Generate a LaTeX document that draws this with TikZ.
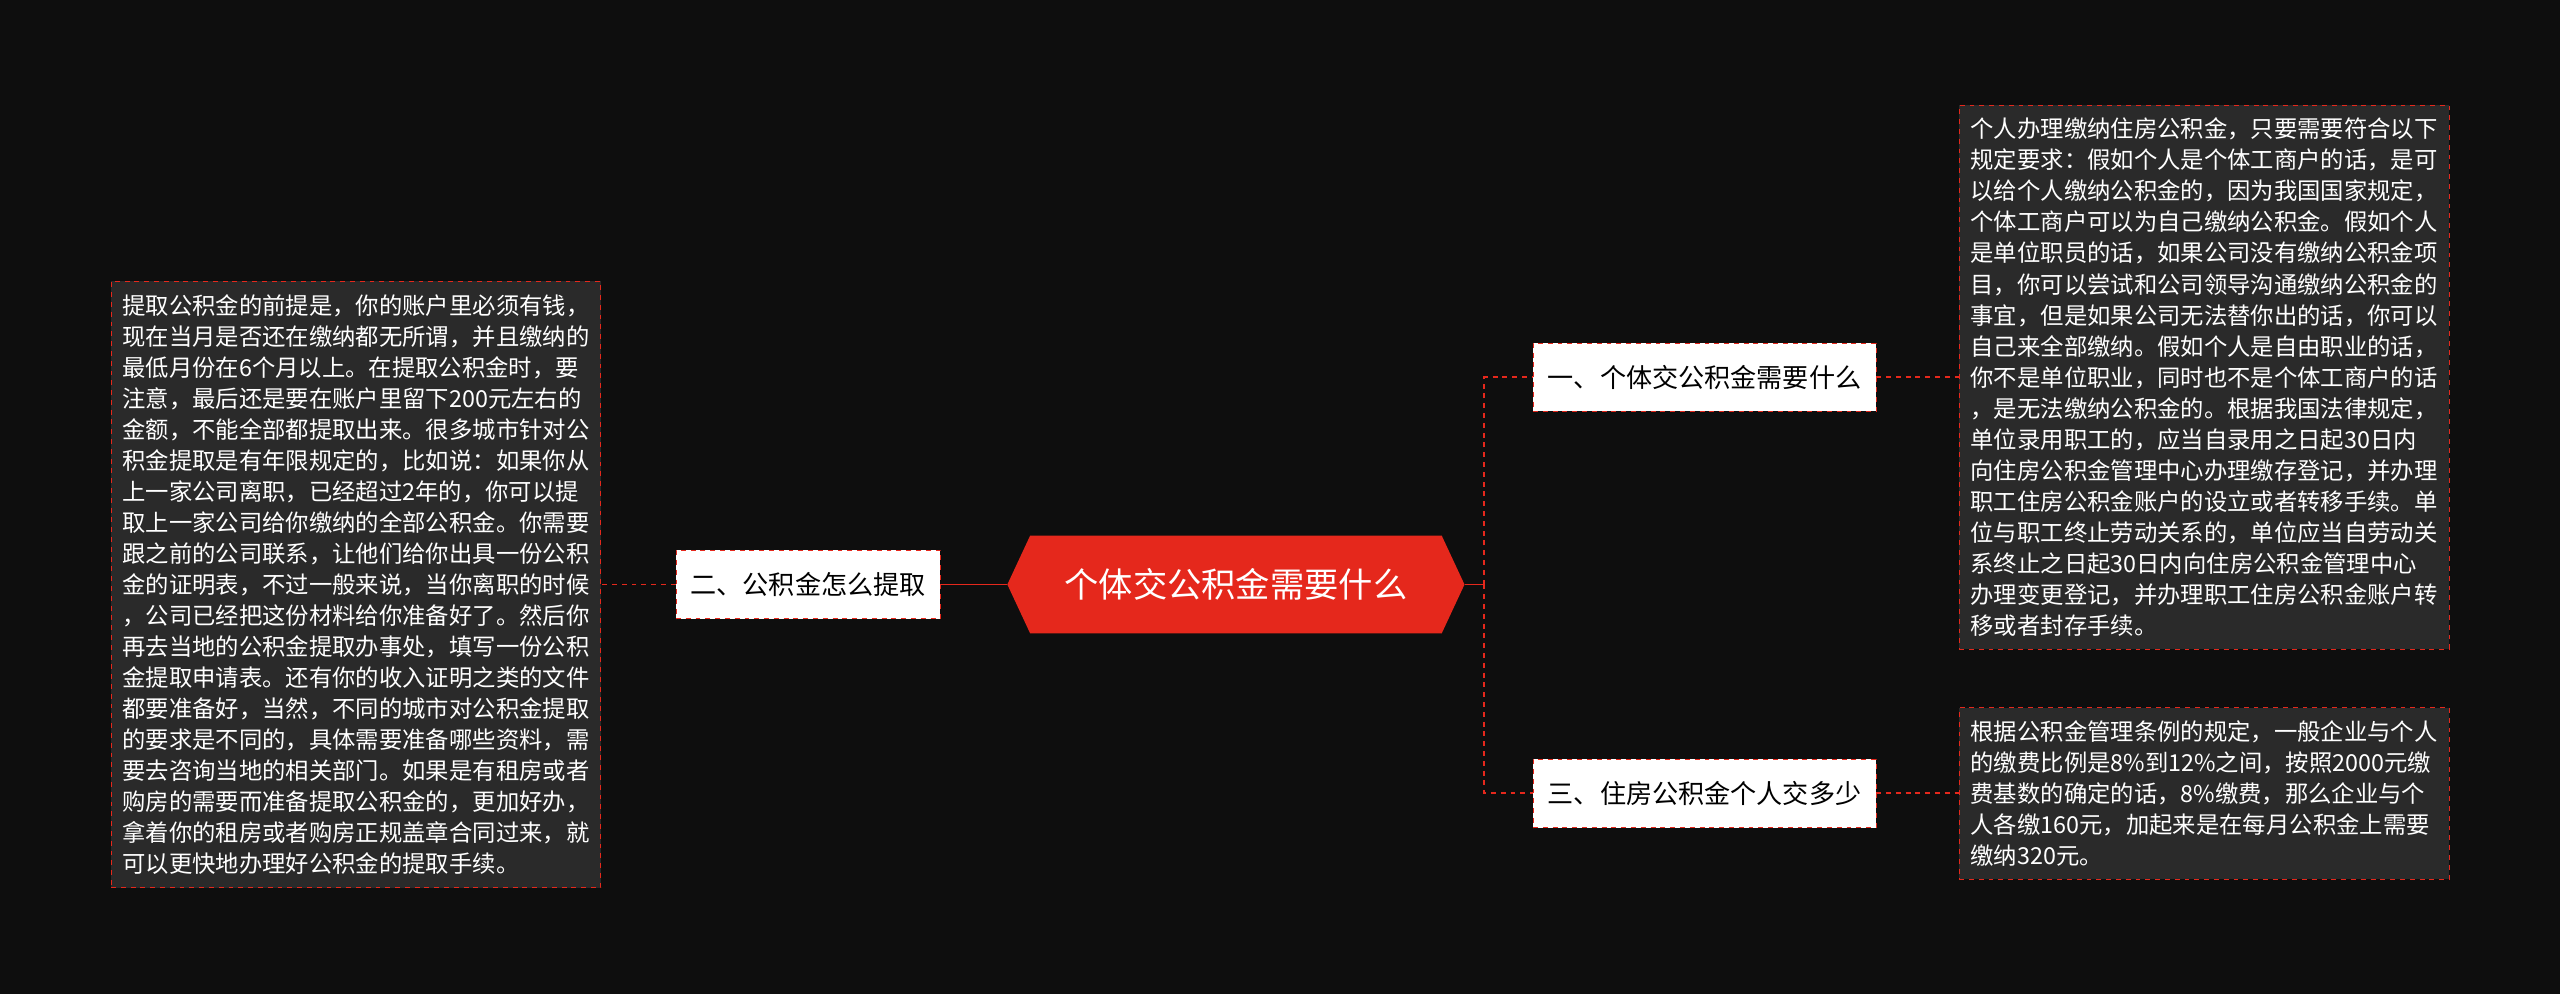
\documentclass[tikz,border=0pt]{standalone}
\usepackage{fontspec}
\setmainfont{Noto Sans CJK SC}
\usetikzlibrary{shapes.symbols}
\definecolor{bgdark}{HTML}{0E0E0E}
\definecolor{boxdark}{HTML}{2A2A2A}
\definecolor{mapred}{HTML}{E5281C}
\tikzstyle{every node}=[inner sep=0pt]
\tikzstyle{root}=[signal, signal to=west and east, signal pointer angle=130, fill=mapred, text=white, font=\fontsize{21}{25}\selectfont, minimum width=280pt, minimum height=60pt]
\tikzstyle{topic}=[draw=mapred, dashed, fill=white, text=black, font=\fontsize{16}{20}\selectfont, inner xsep=9pt, minimum height=42pt]
\tikzstyle{detail}=[draw=mapred, dashed, fill=boxdark, text=white, align=left, font=\fontsize{14.3}{19}\selectfont, inner xsep=7pt, inner ysep=8pt]
\tikzstyle{link}=[mapred, line width=1.2pt]
\tikzstyle{dlink}=[mapred, line width=1.2pt, dashed]

\begin{document}
\begin{tikzpicture}[x=1pt, y=-1pt]
  \fill[bgdark] (0,0) rectangle (1568,609);
  \node[root] (main) at (757,358) {个体交公积金需要什么};
  \node[topic] (t2) at (495,358) {二、公积金怎么提取};
  \node[topic] (t1) at (1044,231) {一、个体交公积金需要什么};
  \node[topic] (t3) at (1044,486) {三、住房公积金个人交多少};
  \node[detail] (d2) at (218,358) {提取公积金的前提是，你的账户里必须有钱，\\
现在当月是否还在缴纳都无所谓，并且缴纳的\\
最低月份在6个月以上。在提取公积金时，要\\
注意，最后还是要在账户里留下200元左右的\\
金额，不能全部都提取出来。很多城市针对公\\
积金提取是有年限规定的，比如说：如果你从\\
上一家公司离职，已经超过2年的，你可以提\\
取上一家公司给你缴纳的全部公积金。你需要\\
跟之前的公司联系，让他们给你出具一份公积\\
金的证明表，不过一般来说，当你离职的时候\\
，公司已经把这份材料给你准备好了。然后你\\
再去当地的公积金提取办事处，填写一份公积\\
金提取申请表。还有你的收入证明之类的文件\\
都要准备好，当然，不同的城市对公积金提取\\
的要求是不同的，具体需要准备哪些资料，需\\
要去咨询当地的相关部门。如果是有租房或者\\
购房的需要而准备提取公积金的，更加好办，\\
拿着你的租房或者购房正规盖章合同过来，就\\
可以更快地办理好公积金的提取手续。};
  \node[detail] (d1) at (1350,231) {个人办理缴纳住房公积金，只要需要符合以下\\
规定要求：假如个人是个体工商户的话，是可\\
以给个人缴纳公积金的，因为我国国家规定，\\
个体工商户可以为自己缴纳公积金。假如个人\\
是单位职员的话，如果公司没有缴纳公积金项\\
目，你可以尝试和公司领导沟通缴纳公积金的\\
事宜，但是如果公司无法替你出的话，你可以\\
自己来全部缴纳。假如个人是自由职业的话，\\
你不是单位职业，同时也不是个体工商户的话\\
，是无法缴纳公积金的。根据我国法律规定，\\
单位录用职工的，应当自录用之日起30日内\\
向住房公积金管理中心办理缴存登记，并办理\\
职工住房公积金账户的设立或者转移手续。单\\
位与职工终止劳动关系的，单位应当自劳动关\\
系终止之日起30日内向住房公积金管理中心\\
办理变更登记，并办理职工住房公积金账户转\\
移或者封存手续。};
  \node[detail] (d3) at (1350,486) {根据公积金管理条例的规定，一般企业与个人\\
的缴费比例是8\%到12\%之间，按照2000元缴\\
费基数的确定的话，8\%缴费，那么企业与个\\
人各缴160元，加起来是在每月公积金上需要\\
缴纳320元。};
  % connectors
  \coordinate (fork) at ([xshift=12pt]main.east);
  \draw[link] (main.east) -- (fork);
  \draw[dlink] (fork) |- (t1.west);
  \draw[dlink] (fork) |- (t3.west);
  \draw[link] (main.west) -- (t2.east);
  \draw[dlink] (t2.west) -- (d2.east);
  \draw[dlink] (t1.east) -- (d1.west);
  \draw[dlink] (t3.east) -- (d3.west);
\end{tikzpicture}
\end{document}
